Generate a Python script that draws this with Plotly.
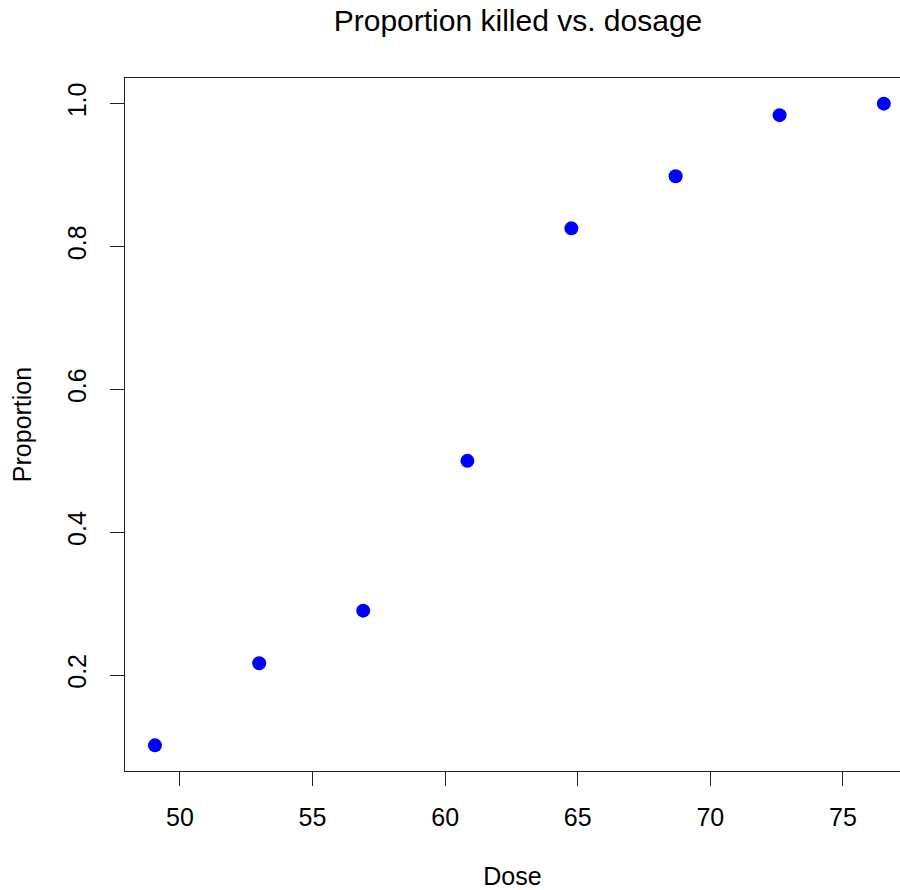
import plotly.graph_objects as go

dose = [49.06, 52.99, 56.91, 60.84, 64.76, 68.69, 72.61, 76.54]
proportion = [0.1017, 0.2167, 0.2903, 0.5000, 0.8254, 0.8983, 0.9839, 1.0000]
x_ticks = [50, 55, 60, 65, 70, 75]
y_ticks = [0.2, 0.4, 0.6, 0.8, 1.0]
y_tick_labels = ["0.2", "0.4", "0.6", "0.8", "1.0"]

font = "Arial, Liberation Sans, sans-serif"

fig = go.Figure(go.Scatter(
    x=dose, y=proportion, mode="markers",
    marker=dict(color="#0000ff", size=14, line=dict(width=0)),
))

fig.update_layout(
    width=900, height=890,
    margin=dict(l=125, r=0, t=78, b=119),
    paper_bgcolor="white", plot_bgcolor="white",
    showlegend=False,
    font=dict(family=font, size=25, color="#000000"),
    title=dict(text="Proportion killed vs. dosage", x=518 / 900, xanchor="center",
               y=1 - 20 / 890, yanchor="middle", xref="container", yref="container",
               font=dict(family=font, size=30, color="#000000")),
)

fig.update_xaxes(
    range=[47.93, 77.15], tickvals=x_ticks, ticks="outside", ticklen=14,
    tickcolor="#222222", showline=True, linecolor="#222222", linewidth=1.3,
    mirror=True, showgrid=False, zeroline=False, ticklabelstandoff=10,
    title=dict(text="Dose", standoff=40, font=dict(size=25)),
    tickfont=dict(size=25),
)
fig.update_yaxes(
    range=[0.0658, 1.0359], tickvals=y_ticks, ticktext=y_tick_labels,
    ticks="outside", ticklen=14, tickangle=-90,
    tickcolor="#222222", showline=True, linecolor="#222222", linewidth=1.3,
    mirror=False, showgrid=False, zeroline=False, ticklabelstandoff=14,
    title=dict(text="Proportion", standoff=24, font=dict(size=25)),
    tickfont=dict(size=25),
)

fig.write_html("out.html", config={"displayModeBar": False},
               post_script="document.body.style.margin='0';document.body.style.overflow='hidden';")
